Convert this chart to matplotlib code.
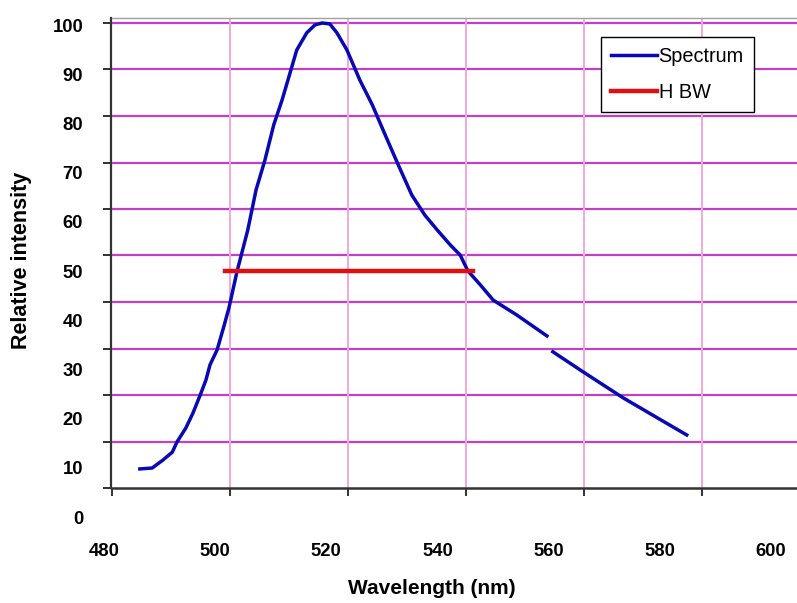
import numpy as np
import matplotlib.pyplot as plt

plt.rcParams['font.family'] = ['Liberation Sans', 'DejaVu Sans']

# spectrum (nan = gap in the trace)
wavelength = [484.8, 486.9, 488.7, 490.3, 491.1, 492.6, 493.8, 495.1, 496.0, 496.7,
              497.9, 499.1, 499.9, 501.3, 502.0, 503.1, 504.5, 506.0, 507.5, 508.9,
              509.9, 511.4, 513.1, 514.5, 515.7, 517.0, 518.2, 519.9, 522.1, 524.2,
              526.4, 528.6, 530.9, 533.1, 535.2, 537.4, 539.1, 540.4, 542.5, 544.7,
              548.7, 553.8, 554.3, 554.8, 559.9, 566.7, 572.5, 577.5]
intensity = [4.1, 4.3, 6.0, 7.7, 9.9, 12.9, 16.1, 20.2, 23.2, 26.5,
             29.7, 35.0, 38.7, 46.7, 50.1, 55.5, 64.1, 70.5, 78.1, 83.4,
             87.7, 94.2, 97.9, 99.6, 100.0, 99.8, 97.9, 94.2, 87.7, 82.4,
             75.9, 69.5, 63.0, 58.7, 55.5, 52.3, 50.1, 46.7, 43.7, 40.4,
             37.2, 32.7, np.nan, 29.3, 25.0, 19.4, 15.1, 11.4]

hbw_x = [499.2, 541.3]
hbw_y = [46.7, 46.7]

x_ticks = [480, 500, 520, 540, 560, 580, 600]
y_ticks = [0, 10, 20, 30, 40, 50, 60, 70, 80, 90, 100]

W, H = 797, 603
fig = plt.figure(figsize=(W / 100, H / 100), dpi=100)

# tick labels sit on their own (slightly offset) scale, as in the picture
lab = fig.add_axes([104 / W, 1 - 517 / H, (771 - 104) / W, (517 - 25) / H])
lab.set_xticks(x_ticks)
lab.set_yticks(y_ticks)
lab.set_xlim(480, 600)
lab.set_ylim(0, 100)
lab.patch.set_visible(False)
for s in lab.spines.values():
    s.set_visible(False)
lab.tick_params(length=0, labelsize=13.3)
lab.tick_params(axis='x', pad=18.5)
lab.tick_params(axis='y', pad=15)
for t in lab.get_xticklabels() + lab.get_yticklabels():
    t.set_fontweight('bold')

ax = fig.add_axes([111.5 / W, 1 - 488 / H, (W - 111.5) / W, (488 - 18) / H])

for y in y_ticks[1:]:
    ax.axhline(y, color='#c040c8', lw=1.6, zorder=1)
for x in x_ticks[1:-1]:
    ax.axvline(x, color='#f2a8dc', lw=1.4, zorder=1)

ax.plot(wavelength, intensity, color='#0808b4', lw=2.5, label='Spectrum', zorder=3)
ax.plot(hbw_x, hbw_y, color='#e01010', lw=3.2, label='H BW', zorder=4)

ax.set_xticks(x_ticks[:-1])
ax.set_yticks(y_ticks)
# limits after the ticks, otherwise set_xticks stretches the view to 600
ax.set_xlim(480, 480 + (W - 111.5) / 5.9)
ax.set_ylim(0, (488 - 18) / 4.65)
ax.tick_params(labelbottom=False, labelleft=False, color='#222222', width=1.3)
ax.tick_params(axis='y', length=6)
ax.tick_params(axis='x', length=5.5)
ax.spines['left'].set_color('#333333')
ax.spines['left'].set_linewidth(1.6)
ax.spines['bottom'].set_color('#333333')
ax.spines['bottom'].set_linewidth(1.8)
ax.spines['top'].set_color('#a0a0a0')
ax.spines['top'].set_linewidth(1.0)
ax.spines['right'].set_visible(False)

leg = ax.legend(loc='upper left', bbox_to_anchor=(601 / W, 1 - 37 / H),
                bbox_transform=fig.transFigure, borderaxespad=0, fontsize=14.3,
                frameon=True, fancybox=False, edgecolor='black', framealpha=1,
                handlelength=2.3, handletextpad=0.1, labelspacing=0.85,
                borderpad=0.5)
leg.get_frame().set_linewidth(1.0)

fig.text(22 / W, 1 - 260 / H, 'Relative intensity', rotation=90, ha='center',
         va='center', fontsize=15.5, fontweight='bold')
fig.text(432 / W, 1 - 588 / H, 'Wavelength (nm)', ha='center', va='center',
         fontsize=15, fontweight='bold')

fig.savefig('out.png', dpi=100)
